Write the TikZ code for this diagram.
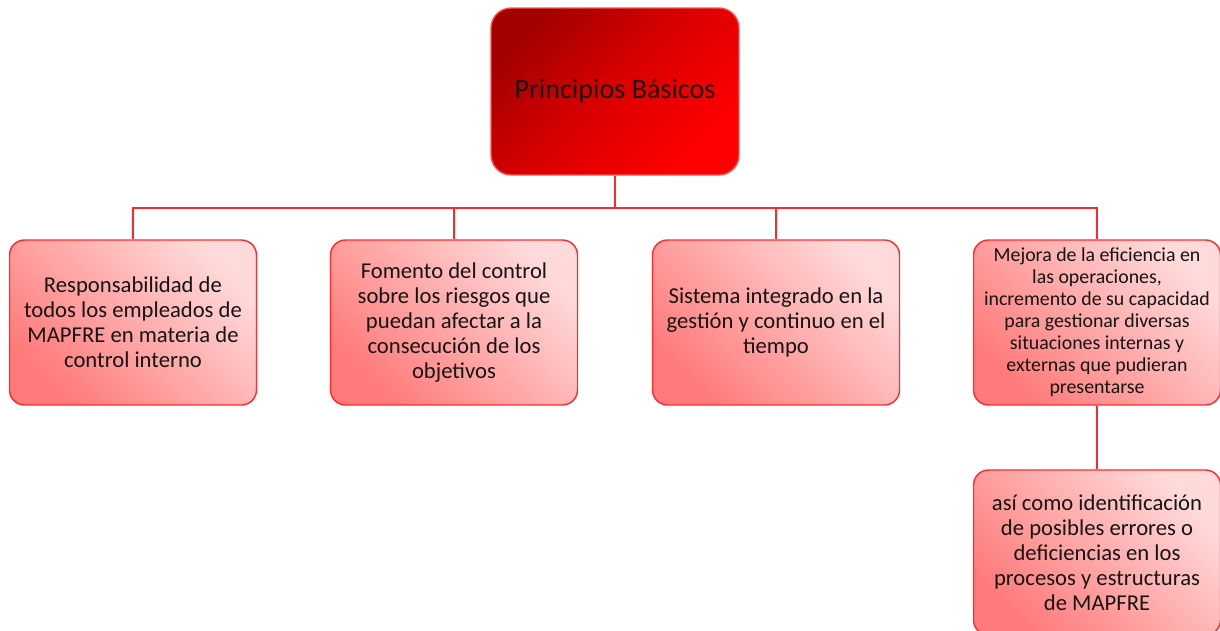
\documentclass[tikz,border=0pt]{standalone}
\usepackage{fontspec}
\setmainfont{Carlito}
\usetikzlibrary{positioning,calc}
\definecolor{topdark}{HTML}{A30000}
\definecolor{topmid}{HTML}{DC0000}
\definecolor{topbright}{HTML}{FF0000}
\definecolor{topedge}{HTML}{FF5050}
\definecolor{boxlight}{HTML}{FFDADA}
\definecolor{boxdark}{HTML}{FF7A7A}
\definecolor{boxedge}{HTML}{FF2A2A}
\definecolor{linkred}{HTML}{FF2828}
\definecolor{txt}{HTML}{151515}

\begin{document}
\begin{tikzpicture}[x=0.02cm, y=-0.02cm,
        main/.style={draw=topedge, line width=0.8pt, rounded corners=0.4cm,
            minimum width=4.96cm, minimum height=3.34cm, align=center,
            top color=topdark, bottom color=topbright, middle color=topmid, shading angle=45,
            text=txt, font=\fontsize{16}{19}\selectfont},
        block/.style={draw=boxedge, line width=0.8pt, rounded corners=0.3cm,
            minimum width=4.94cm, minimum height=3.3cm, align=center,
            top color=boxlight, bottom color=boxdark, shading angle=-45,
            text=txt, font=\fontsize{12.9}{14.3}\selectfont},
        link/.style={draw=linkred, line width=1.3pt}
    ]
        \useasboundingbox (0,0) rectangle (1220,631);

        % Top
        \node[main] (principios) at (615, 91.5) {Principios Básicos};

        % Children
        \node[block] (resp) at (133, 322.5) {
            Responsabilidad de\\
            todos los empleados de\\
            MAPFRE en materia de\\
            control interno
        };
        \node[block] (fomento) at (454, 322.5) {
            Fomento del control\\
            sobre los riesgos que\\
            puedan afectar a la\\
            consecución de los\\
            objetivos
        };
        \node[block] (sistema) at (776, 322.5) {
            Sistema integrado en la\\
            gestión y continuo en el\\
            tiempo
        };
        \node[block, font=\fontsize{11.3}{12.5}\selectfont] (mejora) at (1097, 322.5) {
            Mejora de la eficiencia en\\
            las operaciones,\\
            incremento de su capacidad\\
            para gestionar diversas\\
            situaciones internas y\\
            externas que pudieran\\
            presentarse
        };
        \node[block] (identif) at (1097, 552.5) {
            así como identificación\\
            de posibles errores o\\
            deficiencias en los\\
            procesos y estructuras\\
            de MAPFRE
        };

        % Links
        \draw[link] (principios.south) -- ++(0,32) -| (resp.north);
        \draw[link] (principios.south) -- ++(0,32) -| (fomento.north);
        \draw[link] (principios.south) -- ++(0,32) -| (sistema.north);
        \draw[link] (principios.south) -- ++(0,32) -| (mejora.north);
        \draw[link] (mejora) -- (identif);
    \end{tikzpicture}
\end{document}
